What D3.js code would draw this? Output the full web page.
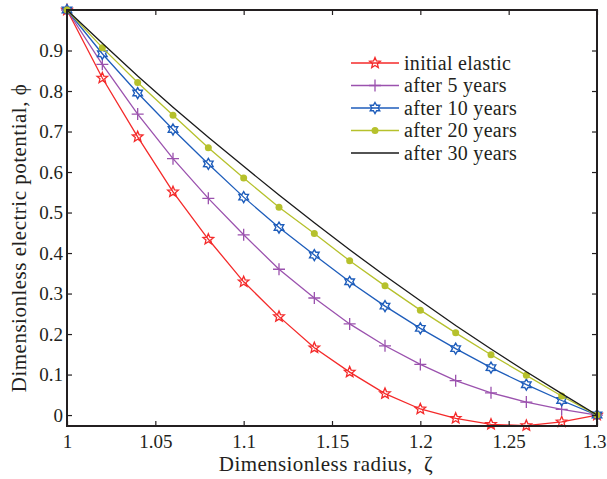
<!DOCTYPE html>
<html>
<head>
<meta charset="utf-8">
<script src="https://cdn.jsdelivr.net/npm/d3@7"></script>
<style>
  body { margin: 0; background: #fff; }
  text { font-family: 'Liberation Serif', 'Times New Roman', serif; fill: #231f20; }
</style>
</head>
<body>
<div id="chart"></div>
<script>
// radius positions and potential values
const radius = [1, 1.02, 1.04, 1.06, 1.08, 1.1, 1.12, 1.14, 1.16, 1.18, 1.2, 1.22, 1.24, 1.26, 1.28, 1.3];
const initialElastic = [1, 0.832, 0.687, 0.551, 0.434, 0.329, 0.243, 0.166, 0.106, 0.053, 0.015, -0.008, -0.023, -0.026, -0.017, 0];
const after5 = [1, 0.866, 0.743, 0.633, 0.535, 0.445, 0.360, 0.289, 0.225, 0.171, 0.125, 0.085, 0.055, 0.032, 0.014, 0];
const after10 = [1, 0.892, 0.795, 0.705, 0.620, 0.538, 0.463, 0.395, 0.329, 0.269, 0.214, 0.164, 0.117, 0.075, 0.036, 0];
const after20 = [1, 0.907, 0.821, 0.740, 0.660, 0.585, 0.513, 0.448, 0.381, 0.319, 0.259, 0.203, 0.149, 0.098, 0.047, 0];
const after30 = [1, 0.918, 0.837, 0.760, 0.686, 0.614, 0.543, 0.475, 0.408, 0.344, 0.282, 0.221, 0.163, 0.107, 0.053, 0];
const seriesNames = ['initial elastic', 'after 5 years', 'after 10 years', 'after 20 years', 'after 30 years'];
const xTicks = [1, 1.05, 1.1, 1.15, 1.2, 1.25, 1.3];
const xTickLabels = ['1', '1.05', '1.1', '1.15', '1.2', '1.25', '1.3'];
const yTicks = [0, 0.1, 0.2, 0.3, 0.4, 0.5, 0.6, 0.7, 0.8, 0.9];
const yTickLabels = ['0', '0.1', '0.2', '0.3', '0.4', '0.5', '0.6', '0.7', '0.8', '0.9'];

const margin = { left: 67, right: 10, top: 10, bottom: 53 };
const width = 607 - margin.left - margin.right;
const height = 479 - margin.top - margin.bottom;

const svg = d3.select('#chart').append('svg')
  .attr('width', 607)
  .attr('height', 479);
const g = svg.append('g')
  .attr('transform', 'translate(' + margin.left + ',' + margin.top + ')');

const x = d3.scaleLinear().domain([1, 1.3]).range([0, width]);
const y = d3.scaleLinear().domain([-0.027, 1]).range([height, 0]);

const series = [
  { name: seriesNames[0], values: initialElastic, color: '#f42a2a', marker: 'pentagram' },
  { name: seriesNames[1], values: after5, color: '#9b52ae', marker: 'plus' },
  { name: seriesNames[2], values: after10, color: '#1e5dbb', marker: 'hexagram' },
  { name: seriesNames[3], values: after20, color: '#b6c12c', marker: 'dot' },
  { name: seriesNames[4], values: after30, color: '#1a1a1a', marker: null }
];

// star outline with n points
function starPath(n, rOut, rIn) {
  const pts = [];
  for (let i = 0; i < 2 * n; i++) {
    const a = -Math.PI / 2 + i * Math.PI / n;
    const r = i % 2 === 0 ? rOut : rIn;
    pts.push([r * Math.cos(a), r * Math.sin(a)]);
  }
  return 'M' + pts.map(p => p[0].toFixed(2) + ',' + p[1].toFixed(2)).join('L') + 'Z';
}

function drawMarker(sel, type, color) {
  if (type === 'pentagram') {
    sel.append('path').attr('d', starPath(5, 5.6, 2.5))
      .attr('fill', 'none').attr('stroke', color).attr('stroke-width', 1.3);
  } else if (type === 'hexagram') {
    sel.append('path').attr('d', starPath(6, 5.5, 3.2))
      .attr('fill', 'none').attr('stroke', color).attr('stroke-width', 1.4);
  } else if (type === 'plus') {
    sel.append('path').attr('d', 'M-6,0H6M0,-6V6')
      .attr('fill', 'none').attr('stroke', color).attr('stroke-width', 1.3);
  } else if (type === 'dot') {
    sel.append('circle').attr('r', 3.5).attr('fill', color);
  }
}

const line = d3.line()
  .x(d => x(d[0]))
  .y(d => y(d[1]));

series.forEach(s => {
  const pts = radius.map((r, i) => [r, s.values[i]]);
  g.append('path')
    .attr('d', line(pts))
    .attr('fill', 'none')
    .attr('stroke', s.color)
    .attr('stroke-width', 1.3);
  if (s.marker) {
    pts.forEach(p => {
      const m = g.append('g').attr('transform', 'translate(' + x(p[0]) + ',' + y(p[1]) + ')');
      drawMarker(m, s.marker, s.color);
    });
  }
});

// Axes (ticks pointing inward on all four sides)
const xAxisCall = d3.axisBottom(x).tickValues(xTicks)
  .tickFormat((d, i) => xTickLabels[i]).tickSizeInner(-5).tickSizeOuter(0).tickPadding(4);
const yAxisCall = d3.axisLeft(y).tickValues(yTicks)
  .tickFormat((d, i) => yTickLabels[i]).tickSizeInner(-5).tickSizeOuter(0).tickPadding(4);

const xAxis = g.append('g').attr('transform', 'translate(0,' + height + ')').call(xAxisCall);
const yAxis = g.append('g').call(yAxisCall);
g.append('g').call(d3.axisTop(x).tickValues(xTicks).tickFormat('').tickSizeInner(-5).tickSizeOuter(0));
g.append('g').attr('transform', 'translate(' + width + ',0)')
  .call(d3.axisRight(y).tickValues(yTicks).tickFormat('').tickSizeInner(-5).tickSizeOuter(0));

g.selectAll('.domain').remove();
g.selectAll('.tick line').attr('stroke', '#231f20').attr('stroke-width', 1.2);
xAxis.selectAll('text')
  .attr('font-size', '19px').attr('font-family', "'Liberation Serif', serif")
  .attr('fill', '#231f20').attr('dy', '0.95em')
  .attr('dx', (d, i) => (i === xTicks.length - 1 ? '-3' : '0'));
yAxis.selectAll('text')
  .attr('font-size', '19px').attr('font-family', "'Liberation Serif', serif").attr('fill', '#231f20');

g.append('rect')
  .attr('width', width).attr('height', height)
  .attr('fill', 'none').attr('stroke', '#231f20').attr('stroke-width', 2);

// Axis labels
g.append('text')
  .attr('x', width / 2 - 6)
  .attr('y', height + 45)
  .attr('text-anchor', 'middle')
  .attr('font-size', '21px')
  .attr('letter-spacing', '0.4px')
  .text('Dimensionless radius,\u00A0 \u03B6');
g.append('text')
  .attr('transform', 'rotate(-90)')
  .attr('x', -228)
  .attr('y', -41)
  .attr('text-anchor', 'middle')
  .attr('font-size', '21px')
  .attr('letter-spacing', '0.5px')
  .text('Dimensionless electric potential, \u03D5');

// Legend
const legend = g.append('g').attr('transform', 'translate(284,53)');
series.forEach((s, i) => {
  const row = legend.append('g').attr('transform', 'translate(0,' + i * 22.5 + ')');
  row.append('line').attr('x1', 0).attr('x2', 48)
    .attr('stroke', s.color).attr('stroke-width', 1.3);
  if (s.marker) {
    const m = row.append('g').attr('transform', 'translate(24,0)');
    drawMarker(m, s.marker, s.color);
  }
  row.append('text')
    .attr('x', 53)
    .attr('dy', '0.33em')
    .attr('font-size', '20px')
    .attr('letter-spacing', '0.3px')
    .text(s.name);
});
</script>
</body>
</html>
